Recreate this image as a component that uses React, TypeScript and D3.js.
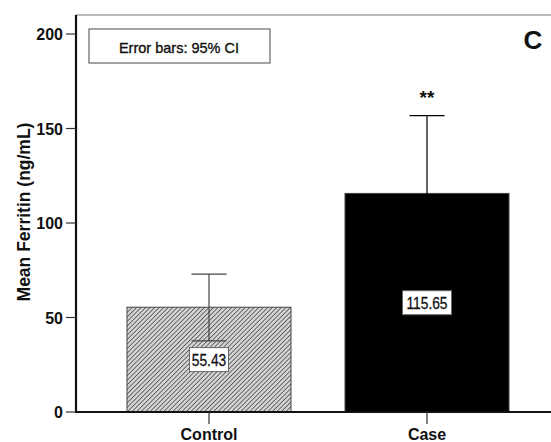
import React from "react";
import * as d3 from "d3";

const categories = ["Control", "Case"];
const means = [55.43, 115.65];
const ciLower = [37.6, 74.5];
const ciUpper = [73.0, 156.8];
const valueLabels = ["55.43", "115.65"];
const yTicks = [0, 50, 100, 150, 200];

const W = 551;
const H = 442;
const FONT = "'Liberation Sans', Arial, sans-serif";

export default function App() {
  const y = d3.scaleLinear().domain([0, 200]).range([412, 34]);
  const bw = 164;
  const xc = d3.scalePoint<string>().domain(categories).range([209, 427]);

  return (
    <svg width={W} height={H} style={{ position: "absolute", left: 0, top: 0, background: "#fff" }} fontFamily={FONT}>
      <defs>
        <pattern id="hatch" patternUnits="userSpaceOnUse" width="3.2" height="3.2" patternTransform="rotate(45)">
          <rect width="3.2" height="3.2" fill="#d4d4d4" />
          <line x1="0" y1="0" x2="0" y2="3.2" stroke="#333" strokeWidth="1.3" />
        </pattern>
      </defs>
      <rect x={0} y={0} width={W} height={H} fill="#fff" />
      <line x1={76} y1={15} x2={W} y2={15} stroke="#777" strokeWidth={1.2} />
      {categories.map((c, i) => {
        const cx = xc(c) as number;
        return (
          <rect
            key={c}
            x={cx - bw / 2}
            y={y(means[i])}
            width={bw}
            height={y(0) - y(means[i])}
            fill={i === 0 ? "url(#hatch)" : "#000"}
            stroke="#444"
            strokeWidth={1}
          />
        );
      })}
      {categories.map((c, i) => {
        const cx = xc(c) as number;
        return (
          <g key={c + "e"} stroke={i === 0 ? "#444" : "#000"} strokeWidth={1.2}>
            <line x1={cx} x2={cx} y1={y(ciUpper[i])} y2={y(ciLower[i])} />
            <line x1={cx - 17.5} x2={cx + 17.5} y1={y(ciUpper[i])} y2={y(ciUpper[i])} />
            <line x1={cx - 17.5} x2={cx + 17.5} y1={y(ciLower[i])} y2={y(ciLower[i])} />
          </g>
        );
      })}
      {categories.map((c, i) => {
        const cx = xc(c) as number;
        const cy = y(means[i] / 2);
        const w = i === 0 ? 39 : 49;
        return (
          <g key={c + "l"}>
            <rect x={cx - w / 2} y={cy - 12} width={w} height={24} fill="#fff" stroke="#666" strokeWidth={1} />
            <text
              transform={`translate(${cx},${cy + 6}) scale(0.86,1)`}
              textAnchor="middle"
              fontSize={16}
              fill="#111"
              stroke="#111"
              strokeWidth={0.3}
            >
              {valueLabels[i]}
            </text>
          </g>
        );
      })}
      <text x={xc("Case") as number} y={104} textAnchor="middle" fontSize={19} fontWeight="bold" fill="#111">**</text>
      <line x1={76} y1={15} x2={76} y2={413} stroke="#111" strokeWidth={2.2} />
      <line x1={75} y1={412} x2={W} y2={412} stroke="#111" strokeWidth={2.2} />
      {yTicks.map((t) => (
        <g key={t}>
          <line x1={66} x2={76} y1={y(t)} y2={y(t)} stroke="#333" strokeWidth={1.2} />
          <text x={63} y={y(t) + 6} textAnchor="end" fontSize={16} fontWeight="bold" fill="#111">
            {t}
          </text>
        </g>
      ))}
      {categories.map((c) => (
        <g key={c + "t"}>
          <line x1={xc(c) as number} x2={xc(c) as number} y1={412} y2={424} stroke="#333" strokeWidth={1.2} />
          <text x={xc(c) as number} y={440} textAnchor="middle" fontSize={16} fontWeight="bold" fill="#111">
            {c}
          </text>
        </g>
      ))}
      <text
        transform={`translate(30,212) rotate(-90)`}
        textAnchor="middle"
        fontSize={17.5}
        fontWeight="bold"
        fill="#111"
      >
        Mean Ferritin (ng/mL)
      </text>
      <rect x={89} y={29} width={181} height={34} fill="#fff" stroke="#666" strokeWidth={1.2} />
      <text x={179} y={53} textAnchor="middle" fontSize={14.5} fill="#111" stroke="#111" strokeWidth={0.35}>
        Error bars: 95% CI
      </text>
      <text x={533} y={49} textAnchor="middle" fontSize={26} fontWeight="bold" fill="#111">C</text>
    </svg>
  );
}
